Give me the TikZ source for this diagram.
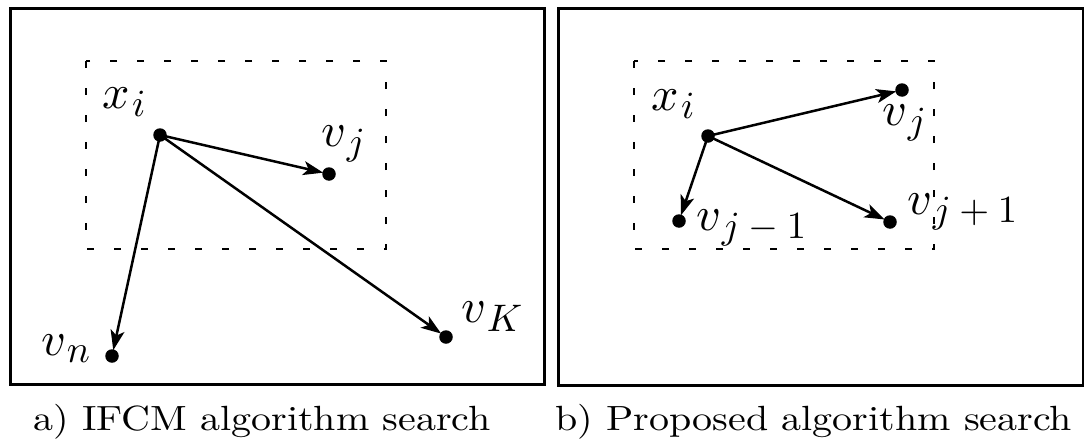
\documentclass[tikz,border=0pt]{standalone}
\usetikzlibrary{arrows.meta}
\tikzset{
  panel/.style={draw, line width=2.6pt},
  searchbox/.style={draw, line width=2.8pt, dash pattern=on 7pt off 20pt},
  dot/.style={circle, fill=black, inner sep=0pt, minimum size=13.5pt},
  link/.style={line width=2.5pt, -{Stealth[length=20pt,width=14pt,inset=5pt]}, shorten >=-1pt},
  lab/.style={anchor=base west, inner sep=0pt},
  captext/.style={anchor=base west, inner sep=0pt}
}
\newcommand{\lbl}[2]{\scalebox{4.8}{$#1_{\kern0.5pt\scalebox{0.8}{$\textstyle#2$}}$}}
\newcommand{\flatc}[1]{\scalebox{4}[3.5]{#1}}
\begin{document}
\begin{tikzpicture}[x=1pt,y=-1pt]
\useasboundingbox (0,0) rectangle (1084,439);
% panels
\node[panel, minimum width=534pt, minimum height=376pt, inner sep=0pt, anchor=north west] (pa) at (9,7) {};
\node[panel, minimum width=525pt, minimum height=377pt, inner sep=0pt, anchor=north west] (pb) at (557,7) {};
% dashed search regions
\draw[searchbox] (86,61) rectangle (386,249);
\draw[searchbox] (634,61) rectangle (934,249);
% left panel points
\node[dot] (xiA) at (160,135) {};
\node[dot] (vjA) at (329,174) {};
\node[dot] (vnA) at (112,356) {};
\node[dot] (vKA) at (446,337) {};
\draw[link] (xiA.center) -- (vjA);
\draw[link] (xiA.center) -- (vnA);
\draw[link] (xiA.center) -- (vKA);
\node[lab] (lxiA) at (102,108) {\lbl{x}{i}};
\node[lab] (lvjA) at (321,146) {\lbl{v}{j}};
\node[lab] (lvnA) at (41,355) {\lbl{v}{n}};
\node[lab] (lvKA) at (461,322) {\lbl{v}{K}};
% right panel points
\node[dot] (xiB) at (708,136) {};
\node[dot] (vjB) at (902,90) {};
\node[dot] (vjmB) at (679,221) {};
\node[dot] (vjpB) at (890,222) {};
\draw[link] (xiB.center) -- (vjB);
\draw[link] (xiB.center) -- (vjmB);
\draw[link] (xiB.center) -- (vjpB);
\node[lab] (lxiB) at (651,110) {\lbl{x}{i}};
\node[lab] (lvjB) at (882,125) {\lbl{v}{j}};
\node[lab] (lvjmB) at (696,230) {\lbl{v}{j-1}};
\node[lab] (lvjpB) at (907,214) {\lbl{v}{j+1}};
% captions
\node[captext] (capa) at (33,430) {\flatc{a) IFCM algorithm search}};
\node[captext] (capb) at (555,430) {\flatc{b) Proposed algorithm search}};
\end{tikzpicture}
\end{document}
